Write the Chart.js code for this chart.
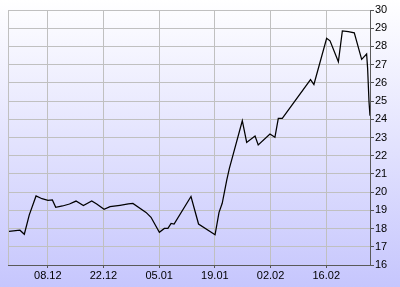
<!DOCTYPE html>
<html lang="en">
<head>
    <meta charset="UTF-8">
    <title>Price chart</title>
    <style>
        body {
          margin: 0;
          padding: 0;
          background: #fff;}
        canvas {
          display: block;}
    </style>
    <script src="https://cdn.jsdelivr.net/npm/chart.js@4.4.2/dist/chart.umd.min.js"></script>
</head>
<body>
    <canvas id="priceChart" width="400" height="287"></canvas>
    <script>
        // days counted from 28.11
        const days = [0.25, 3.0, 4.1, 5.35, 7.05, 8.55, 10.05, 11.15, 12.0, 13.7, 15.45, 17.1, 18.95, 21.05, 22.3,
            24.15, 25.65, 28.15, 30.25, 31.4, 34.7, 35.95, 38.05, 39.3, 40.2, 41.0, 41.75, 46.0, 47.9,
            52.05, 53.05, 53.85, 55.0, 55.65, 58.9, 60.0, 62.1, 62.9, 65.85, 67.1, 67.95, 68.95,
            76.05, 76.9, 80.1, 80.95, 83.05, 84.05, 85.55, 87.05, 88.9, 90.15, 90.4, 90.75, 91.0];
        const prices = [17.85, 17.91, 17.69, 18.75, 19.79, 19.64, 19.55, 19.57, 19.17, 19.24, 19.35, 19.51, 19.27, 19.51, 19.35,
            19.06, 19.20, 19.28, 19.35, 19.38, 18.89, 18.62, 17.80, 18.01, 18.01, 18.28, 18.25, 19.76, 18.25,
            17.66, 18.89, 19.39, 20.67, 21.31, 23.92, 22.73, 23.08, 22.59, 23.19, 23.01, 24.05, 24.05,
            26.18, 25.91, 28.45, 28.31, 27.16, 28.85, 28.81, 28.75, 27.29, 27.58, 26.80, 24.97, 24.20];
        const tickDays = [10, 24, 38, 52, 66, 80];
        const tickLabels = ['08.12', '22.12', '05.01', '19.01', '02.02', '16.02'];

        // background gradient behind everything
        const bgPlugin = {
            id: 'bg',
            beforeDraw(chart) {
                const c = chart.ctx;
                const g = c.createLinearGradient(0, 0, 0, chart.height);
                g.addColorStop(0, '#ffffff');
                g.addColorStop(1, '#c6c6fd');
                c.save();
                c.fillStyle = g;
                c.fillRect(0, 0, chart.width, chart.height);
                c.restore();}};

        const ctx = document.getElementById('priceChart').getContext('2d');
        const priceChart = new Chart(ctx, {
            type: 'line',
            data: {
                datasets: [{
                    data: days.map((d, i) => ({x: d, y: prices[i]})),
                    borderColor: '#000',
                    borderWidth: 1.25,
                    pointRadius: 0,
                    tension: 0,
                    fill: false}]},
            options: {
                responsive: false,
                animation: false,
                devicePixelRatio: 1,
                layout: {padding: {left: 8, top: 10, right: 0, bottom: 0}},
                plugins: {
                    legend: {display: false},
                    tooltip: {enabled: false}},
                scales: {
                    x: {
                        type: 'linear',
                        min: 0,
                        max: 91,
                        afterBuildTicks: function(scale) {
                            scale.ticks = [0].concat(tickDays).map(v => ({value: v}));},
                        afterFit: function(scale) {
                            scale.height = 22;},
                        grid: {
                            color: '#c0c0c0',
                            lineWidth: 1,
                            tickLength: 3,
                            tickColor: function(context) {
                                return context.tick && context.tick.value === 0 ? 'rgba(0,0,0,0)' : '#555';}},
                        border: {color: '#5a5a5a', width: 1},
                        ticks: {
                            color: '#000',
                            padding: 1,
                            maxRotation: 0,
                            autoSkip: false,
                            font: {family: 'Liberation Sans, Arial, sans-serif', size: 11},
                            callback: function(value) {
                                const i = tickDays.indexOf(value);
                                return i < 0 ? '' : tickLabels[i];}}},
                    y: {
                        position: 'right',
                        min: 16,
                        max: 30,
                        afterFit: function(scale) {
                            scale.width = 30;},
                        grid: {
                            color: '#c0c0c0',
                            lineWidth: 1,
                            tickLength: 4,
                            tickColor: '#555'},
                        border: {color: '#5a5a5a', width: 1},
                        ticks: {
                            stepSize: 1,
                            color: '#000',
                            padding: 1,
                            font: {family: 'Liberation Sans, Arial, sans-serif', size: 11}}}}},
            plugins: [bgPlugin]});
    </script>
</body>
</html>
